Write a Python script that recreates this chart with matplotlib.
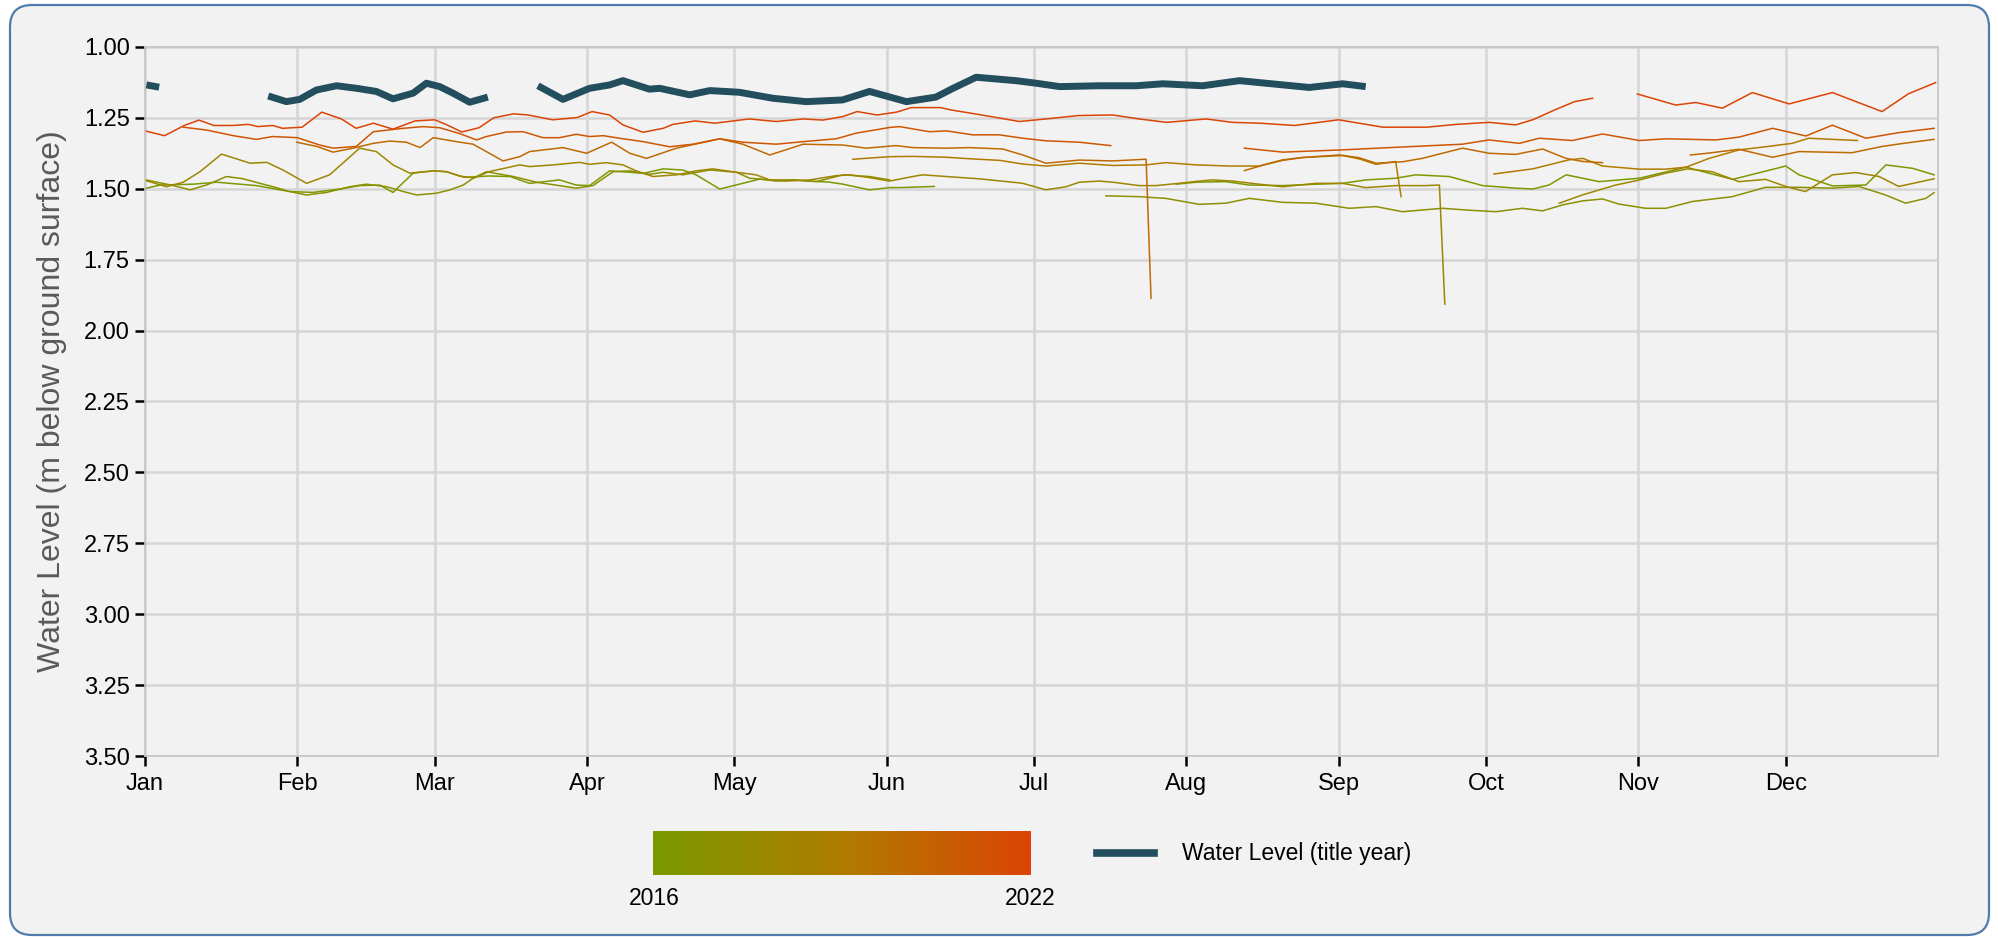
import numpy as np
import matplotlib
matplotlib.use('Agg')
import matplotlib.pyplot as plt
from matplotlib.colors import LinearSegmentedColormap
from matplotlib.patches import FancyBboxPatch
from matplotlib.lines import Line2D

plt.rcParams['font.family'] = ['Liberation Sans', 'DejaVu Sans']

nan = float('nan')

# day of year, water level (m below ground surface); nan = gap in record
wl_2016 = [(0.3, 1.498), (3.1, 1.487), (9.8, 1.484), (14.6, 1.477), (19.3, 1.484), (22.7, 1.489),
           (29.5, 1.51), (34.2, 1.513), (39.7, 1.501), (43.7, 1.489), (47.8, 1.487), (50.5, 1.513),
           (54.6, 1.445), (58.7, 1.437), (61.4, 1.44), (65, 1.46), (70, 1.455), (74.3, 1.457),
           (78.3, 1.481), (84.4, 1.469), (87.8, 1.487), (90.5, 1.489), (94.6, 1.437), (98.7, 1.442),
           (101.4, 1.446), (105.5, 1.43), (109.5, 1.434), (112.2, 1.451), (117, 1.501), (121.7, 1.481),
           (125.1, 1.466), (128.5, 1.473), (132, 1.469), (135.3, 1.473), (139.4, 1.477), (142.1, 1.484),
           (147.5, 1.504), (151.6, 1.496), (153.6, 1.496), (160.7, 1.492), (185, nan),
           (209.9, 1.484), (214, 1.477), (220, 1.475), (224.8, 1.487), (231.6, 1.489), (238.4, 1.484),
           (243.8, 1.481), (248.5, 1.469), (254.6, 1.463), (258.7, 1.451), (265.5, 1.457), (272.3, 1.489),
           (279, 1.498), (282.5, 1.501), (285.8, 1.487), (289.3, 1.451), (296, 1.475), (304.2, 1.463),
           (313.7, 1.424), (323.2, 1.467), (334, 1.42), (336.7, 1.451), (343.5, 1.49), (350.3, 1.487),
           (354.4, 1.416), (359.8, 1.428), (364.2, 1.451)]

wl_2017 = [(0.3, 1.469), (5.8, 1.489), (9.2, 1.504), (12.5, 1.487), (16.6, 1.457), (20, 1.465),
           (23.4, 1.481), (26.1, 1.493), (29.5, 1.51), (32.9, 1.522), (37, 1.513), (41.7, 1.493),
           (45.1, 1.484), (49.2, 1.493), (52.6, 1.51), (55.3, 1.522), (59.3, 1.516), (62.1, 1.504),
           (64.8, 1.487), (66.8, 1.463), (69.5, 1.44), (75, 1.457), (79.7, 1.477), (87.8, 1.498),
           (91.2, 1.489), (95.3, 1.44), (98.7, 1.437), (102.7, 1.449), (105.5, 1.442), (109.5, 1.451),
           (115, 1.434), (120.4, 1.442), (123.1, 1.463), (127.2, 1.469), (132, 1.469), (136.7, 1.475),
           (142.1, 1.451), (147.5, 1.457), (151.6, 1.469), (170, nan),
           (195.6, 1.525), (202.4, 1.528), (207.8, 1.534), (214.6, 1.555), (220, 1.551), (224.8, 1.534),
           (231.6, 1.548), (238.4, 1.551), (245.1, 1.569), (250.6, 1.563), (256, 1.581), (264.1, 1.569),
           (268.9, 1.575), (275, 1.581), (280.4, 1.569), (284.5, 1.578), (288.6, 1.557), (292.6, 1.543),
           (296.7, 1.536), (300, 1.554), (305.5, 1.569), (309.6, 1.569), (315, 1.545), (323.1, 1.528),
           (329.9, 1.495), (336.7, 1.495), (343.5, 1.498), (348.9, 1.492), (354.3, 1.522), (358.4, 1.551),
           (362.5, 1.534), (364.2, 1.514)]

wl_2018 = [(0.3, 1.472), (4.4, 1.493), (7.8, 1.477), (11.2, 1.44), (15.6, 1.378), (21.4, 1.41),
           (24.8, 1.407), (28.1, 1.434), (32.9, 1.481), (37.6, 1.451), (43.7, 1.357), (47.1, 1.369),
           (50.5, 1.416), (53.9, 1.445), (58.7, 1.437), (61.4, 1.44), (64, 1.455), (67, 1.462),
           (70, 1.44), (76.3, 1.416), (78.3, 1.422), (83.1, 1.416), (88.5, 1.407), (90.5, 1.414),
           (93.9, 1.408), (97.3, 1.416), (100, 1.437), (103.4, 1.457), (108.2, 1.451), (112.2, 1.437),
           (115.6, 1.43), (120.4, 1.442), (124.4, 1.451), (127.2, 1.469), (130.6, 1.473), (135.3, 1.469),
           (140.7, 1.454), (143.4, 1.451), (147.5, 1.461), (151.6, 1.473), (156.3, 1.457), (158.3, 1.451),
           (163.1, 1.457), (169.8, 1.465), (176.6, 1.477), (178.7, 1.481), (183.4, 1.504), (187.5, 1.493),
           (190.2, 1.477), (194.3, 1.473), (197, 1.477), (202.4, 1.489), (205.8, 1.489), (210.5, 1.481),
           (214.6, 1.473), (217.3, 1.469), (221.4, 1.473), (226.8, 1.484), (231.6, 1.493), (238.4, 1.481),
           (243.8, 1.481), (248.5, 1.496), (254.6, 1.489), (260.7, 1.489), (263.5, 1.487), (264.6, 1.907),
           (275, nan),
           (287.9, 1.551), (292.6, 1.522), (299.4, 1.487), (304, 1.47), (309.6, 1.445), (314, 1.43),
           (319, 1.44), (324.5, 1.475), (329.9, 1.467), (334, 1.492), (338, 1.51), (343.5, 1.451),
           (348.2, 1.443), (353, 1.457), (357, 1.492), (364.2, 1.465)]

wl_2019 = [(144.1, 1.396), (151.6, 1.387), (156.3, 1.386), (163, 1.389), (168.5, 1.395), (174, 1.40),
           (178.7, 1.413), (183.4, 1.42), (190.2, 1.41), (197, 1.418), (203.8, 1.416), (207.8, 1.408),
           (214, 1.416), (220.7, 1.42), (226.8, 1.42), (231.6, 1.398), (235.6, 1.39), (243.8, 1.383),
           (247.2, 1.395), (250.6, 1.414), (254.6, 1.404), (255.7, 1.528), (265, nan),
           (274.6, 1.448), (282.5, 1.43), (289.9, 1.398), (292.7, 1.393), (296.7, 1.42), (304.2, 1.431),
           (309.6, 1.431), (313.7, 1.424), (318.4, 1.393), (324.5, 1.363), (329.9, 1.352), (335.3, 1.34),
           (338.7, 1.322), (343.5, 1.326), (348.6, 1.33)]

wl_2020 = [(30.9, 1.336), (35, 1.351), (38.3, 1.371), (42.4, 1.357), (46.5, 1.34), (49.8, 1.332),
           (53.2, 1.336), (56, 1.355), (58.7, 1.32), (63.4, 1.334), (66.8, 1.343), (72.9, 1.402),
           (76.3, 1.387), (78.3, 1.369), (85.1, 1.355), (89.9, 1.375), (95, 1.336), (98.7, 1.375),
           (102.1, 1.393), (108.2, 1.357), (117, 1.324), (121.7, 1.343), (127.2, 1.381), (134, 1.343),
           (142.1, 1.346), (146.8, 1.357), (152.9, 1.348), (156.3, 1.355), (163.1, 1.357), (167.8, 1.355),
           (174.6, 1.36), (178.7, 1.381), (183.4, 1.41), (190.2, 1.399), (197, 1.402), (203.8, 1.396),
           (204.8, 1.886), (214, nan),
           (223.8, 1.436), (228, 1.415), (231.6, 1.40), (235.6, 1.39), (243.1, 1.381), (247, 1.39),
           (250.6, 1.41), (256, 1.405), (260, 1.393), (268.2, 1.357), (273.6, 1.375), (279, 1.379),
           (284.5, 1.36), (289.3, 1.393), (292.7, 1.404), (296.7, 1.408), (305, nan),
           (314.6, 1.381), (318, 1.375), (324.5, 1.361), (331.3, 1.389), (336.7, 1.369), (347.5, 1.373),
           (353.6, 1.351), (358, 1.34), (364.2, 1.326)]

wl_2021 = [(7.8, 1.283), (12.5, 1.293), (18, 1.313), (22.7, 1.326), (26, 1.316), (31, 1.32),
           (35.6, 1.346), (38.3, 1.357), (43, 1.351), (46.5, 1.299), (52.6, 1.287), (56.6, 1.281),
           (60, 1.285), (64, 1.305), (67.5, 1.328), (69.5, 1.316), (73.6, 1.3), (77, 1.299),
           (81, 1.32), (84.4, 1.32), (87.8, 1.308), (90.5, 1.316), (93.3, 1.313), (96.6, 1.322),
           (101.4, 1.334), (106.8, 1.352), (111.6, 1.343), (117, 1.324), (121.7, 1.336), (128.5, 1.343),
           (134, 1.334), (140.7, 1.324), (144.8, 1.304), (151.6, 1.284), (153.6, 1.281), (159.7, 1.299),
           (163.1, 1.296), (168.5, 1.31), (173.9, 1.31), (178.7, 1.322), (183.4, 1.331), (190.2, 1.336),
           (196.6, 1.348), (210, nan),
           (223.8, 1.357), (231.6, 1.371), (243.8, 1.363), (253.3, 1.355), (268.2, 1.343), (273.6, 1.328),
           (279.8, 1.34), (283.8, 1.322), (290.6, 1.33), (296.7, 1.307), (304.2, 1.33), (309.6, 1.324),
           (319.8, 1.328), (324.5, 1.318), (331.3, 1.287), (338.1, 1.314), (343.5, 1.276), (350.3, 1.322),
           (357.1, 1.302), (364.2, 1.287)]

wl_2022 = [(0, 1.296), (4, 1.313), (8, 1.277), (11, 1.258), (14, 1.277), (18, 1.277), (21, 1.273),
           (23, 1.281), (26, 1.277), (28, 1.287), (32, 1.283), (36, 1.23), (40, 1.254), (43, 1.287),
           (46.5, 1.269), (50.5, 1.29), (55, 1.261), (59, 1.257), (61.5, 1.275), (64.5, 1.30),
           (68, 1.285), (71, 1.25), (75, 1.236), (78, 1.24), (83, 1.257), (88, 1.249), (91, 1.228),
           (94.6, 1.24), (97.3, 1.275), (101.4, 1.301), (105.5, 1.287), (107.5, 1.273), (112, 1.261),
           (116, 1.269), (123, 1.254), (128.5, 1.263), (134, 1.254), (138, 1.258), (142, 1.246),
           (145, 1.228), (149, 1.24), (153, 1.23), (156, 1.214), (162, 1.214), (164, 1.222), (171, 1.242),
           (178, 1.263), (183.4, 1.254), (190, 1.242), (197, 1.24), (202.4, 1.254), (208, 1.266),
           (216, 1.254), (221.4, 1.266), (227, 1.269), (234, 1.277), (243, 1.257), (252, 1.283),
           (261, 1.283), (267, 1.273), (273.6, 1.266), (279, 1.275), (282.5, 1.257), (287, 1.222),
           (291, 1.193), (294.7, 1.181), (299, nan),
           (303.8, 1.166), (311.6, 1.205), (315.7, 1.196), (321.1, 1.216), (327.2, 1.161), (334.7, 1.201),
           (343.5, 1.161), (353.6, 1.228), (359, 1.165), (364.5, 1.126)]

# title year
wl_title = [(0.3, 1.134), (2.9, 1.142), (14, nan),
            (25.1, 1.173), (28.8, 1.193), (31.5, 1.185), (34.9, 1.152), (39, 1.137), (43.1, 1.146),
            (47.1, 1.157), (50.5, 1.183), (54.6, 1.163), (57.3, 1.128), (60, 1.14), (62.7, 1.163),
            (66.1, 1.195), (69.8, 1.177), (75, nan),
            (80, 1.137), (85.1, 1.185), (90.5, 1.146), (94.6, 1.134), (97.3, 1.119), (102.7, 1.149),
            (104.8, 1.146), (110.9, 1.169), (115, 1.154), (121, 1.16), (127.8, 1.181), (134.6, 1.193),
            (142, 1.187), (147.5, 1.157), (155, 1.193), (161, 1.177), (164.5, 1.146), (169.2, 1.107),
            (177.3, 1.119), (181.4, 1.128), (186.2, 1.14), (194.3, 1.137), (201.8, 1.137), (207.2, 1.13),
            (215.3, 1.137), (222.8, 1.119), (237, 1.143), (243.8, 1.13), (248.5, 1.14)]

years = [2016, 2017, 2018, 2019, 2020, 2021, 2022]
year_data = [wl_2016, wl_2017, wl_2018, wl_2019, wl_2020, wl_2021, wl_2022]
month_starts = [0, 31, 59, 90, 120, 151, 181, 212, 243, 273, 304, 334]
month_labels = ['Jan', 'Feb', 'Mar', 'Apr', 'May', 'Jun', 'Jul', 'Aug', 'Sep', 'Oct', 'Nov', 'Dec']
y_ticks = [1.00, 1.25, 1.50, 1.75, 2.00, 2.25, 2.50, 2.75, 3.00, 3.25, 3.50]

cmap = LinearSegmentedColormap.from_list('yrs', ['#7a9a01', '#b07c00', '#dc4405'])
title_color = '#234e5e'
panel = '#f2f2f2'

fig = plt.figure(figsize=(19.99, 9.38), dpi=100, facecolor='white')
box = FancyBboxPatch((0.1, 0.03), 19.79, 9.3, boxstyle='round,pad=0,rounding_size=0.22',
                     transform=fig.dpi_scale_trans, facecolor=panel, edgecolor='#4f7cac',
                     linewidth=1.6, zorder=-10)
fig.patches.append(box)

ax = fig.add_axes([0.0725, 0.194, 0.897, 0.756])
ax.set_facecolor(panel)

for yr, data in zip(years, year_data):
    arr = np.array(data, dtype=float)
    ax.plot(arr[:, 0], arr[:, 1], color=cmap((yr - 2016) / 6), lw=1.1, zorder=2,
            solid_joinstyle='round')

arr = np.array(wl_title, dtype=float)
ax.plot(arr[:, 0], arr[:, 1], color=title_color, lw=5, zorder=3, solid_capstyle='butt',
        solid_joinstyle='round')

ax.set_xlim(0, 365)
ax.set_ylim(3.5, 1.0)
ax.set_xticks(month_starts)
ax.set_xticklabels(month_labels)
ax.set_yticks(y_ticks)
ax.set_yticklabels(['%.2f' % v for v in y_ticks])
ax.grid(True, color='#d5d5d5', lw=1.8, zorder=0)
ax.set_axisbelow(True)
for s in ax.spines.values():
    s.set_color('#c4c4c4')
    s.set_linewidth(1.2)
ax.tick_params(axis='both', labelsize=17, length=7, width=1.8, color='black', labelcolor='black')
ax.tick_params(axis='y', pad=4)
ax.tick_params(axis='x', pad=5)
ax.set_ylabel('Water Level (m below ground surface)', fontsize=23, color='#5a5a5a', labelpad=12)

# colour legend for the years
cax = fig.add_axes([0.3267, 0.0672, 0.1886, 0.0469])
cax.imshow(np.linspace(0, 1, 256)[None, :], aspect='auto', cmap=cmap)
cax.set_axis_off()
fig.text(0.3272, 0.0416, str(years[0]), ha='center', va='center', fontsize=16.5)
fig.text(0.5153, 0.0416, str(years[-1]), ha='center', va='center', fontsize=16.5)

# title year legend entry
fig.lines.append(Line2D([0.5488, 0.5773], [0.0906, 0.0906], transform=fig.transFigure,
                        color=title_color, lw=5.5))
fig.text(0.5913, 0.0906, 'Water Level (title year)', ha='left', va='center', fontsize=16.5)

fig.savefig('out.png', dpi=100, facecolor=fig.get_facecolor())
